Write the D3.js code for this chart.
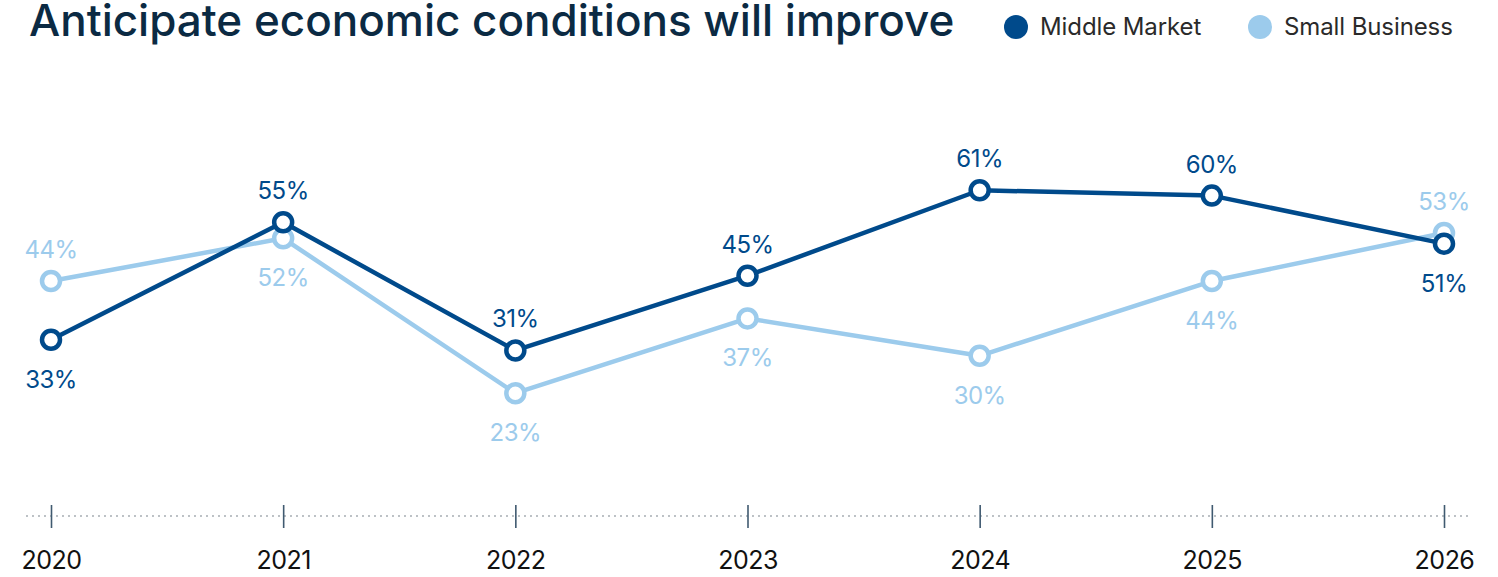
<!DOCTYPE html>
<html>
<head>
<meta charset="utf-8">
<script src="https://cdn.jsdelivr.net/npm/d3@7"></script>
<style>
  html, body { margin: 0; padding: 0; background: #fff; }
  svg { display: block; font-family: Inter, "Noto Sans", sans-serif; }
</style>
</head>
<body>
<svg id="chart" width="1498" height="577"></svg>
<script>
// Survey years and the share (%) anticipating improved economic conditions
const years = ["2020", "2021", "2022", "2023", "2024", "2025", "2026"];
const middleMarket = [33, 55, 31, 45, 61, 60, 51];
const smallBusiness = [44, 52, 23, 37, 30, 44, 53];
// Label placement per point: "above" or "below"
const middleMarketLabelPos = ["below", "above", "above", "above", "above", "above", "below"];
const smallBusinessLabelPos = ["above", "below", "below", "below", "below", "below", "above"];

const series = [
  { name: "Middle Market", values: middleMarket, pos: middleMarketLabelPos, color: "#004a8b" },
  { name: "Small Business", values: smallBusiness, pos: smallBusinessLabelPos, color: "#9ccbec" }
];

const svg = d3.select("#chart");

const x = d3.scalePoint().domain(years).range([51, 1444]);
const y = d3.scaleLinear().domain([0, 100]).range([516, -18]);

// Title
svg.append("text")
  .attr("x", 29).attr("y", 36)
  .attr("fill", "#0b2a43")
  .attr("font-size", 44)
  .attr("font-weight", 500)
  .attr("letter-spacing", 0)
  .text("Anticipate economic conditions will improve");

// Legend
const legend = svg.append("g");
const legendItems = [
  { name: "Middle Market", color: "#004a8b", cx: 1016, tx: 1040 },
  { name: "Small Business", color: "#9ccbec", cx: 1260, tx: 1284 }
];
legendItems.forEach(d => {
  legend.append("circle").attr("cx", d.cx).attr("cy", 27).attr("r", 12).attr("fill", d.color);
  legend.append("text")
    .attr("x", d.tx).attr("y", 35)
    .attr("fill", "#2a2a2a")
    .attr("font-size", 24)
    .attr("letter-spacing", -0.1)
    .text(d.name);
});

// Dotted baseline
svg.append("line")
  .attr("x1", 27).attr("x2", 1470)
  .attr("y1", y(0)).attr("y2", y(0))
  .attr("stroke", "#a7adb3")
  .attr("stroke-width", 2)
  .attr("stroke-linecap", "round")
  .attr("stroke-dasharray", "0 6");

// Year axis with ticks crossing the baseline
const axis = svg.append("g")
  .attr("transform", `translate(0,${y(0) - 11})`)
  .call(d3.axisBottom(x).tickSize(23).tickPadding(23));
axis.select(".domain").remove();
axis.selectAll(".tick line").attr("stroke", "#405a70").attr("stroke-width", 1.6);
axis.selectAll(".tick text")
  .attr("font-family", "Inter, 'Noto Sans', sans-serif")
  .attr("font-size", 25)
  .attr("letter-spacing", -0.5)
  .attr("fill", "#111");

// Lines, markers and value labels
const line = d3.line().x((d, i) => x(years[i])).y(d => y(d));

// Small Business drawn first so Middle Market sits on top
[series[1], series[0]].forEach(s => {
  const g = svg.append("g");
  g.append("path")
    .datum(s.values)
    .attr("d", line)
    .attr("fill", "none")
    .attr("stroke", s.color)
    .attr("stroke-width", 4.5)
    .attr("stroke-linejoin", "round");
  g.selectAll("circle")
    .data(s.values)
    .join("circle")
    .attr("cx", (d, i) => x(years[i]))
    .attr("cy", d => y(d))
    .attr("r", 9)
    .attr("fill", "#fff")
    .attr("stroke", s.color)
    .attr("stroke-width", 4.5);
});

series.forEach(s => {
  svg.append("g").selectAll("text")
    .data(s.values)
    .join("text")
    .attr("x", (d, i) => x(years[i]))
    .attr("y", (d, i) => s.pos[i] === "above" ? y(d) - 23 : y(d) + 48)
    .attr("text-anchor", "middle")
    .attr("fill", s.color)
    .attr("font-size", 24)
    .attr("letter-spacing", -0.5)
    .text(d => d + "%");
});
</script>
</body>
</html>
